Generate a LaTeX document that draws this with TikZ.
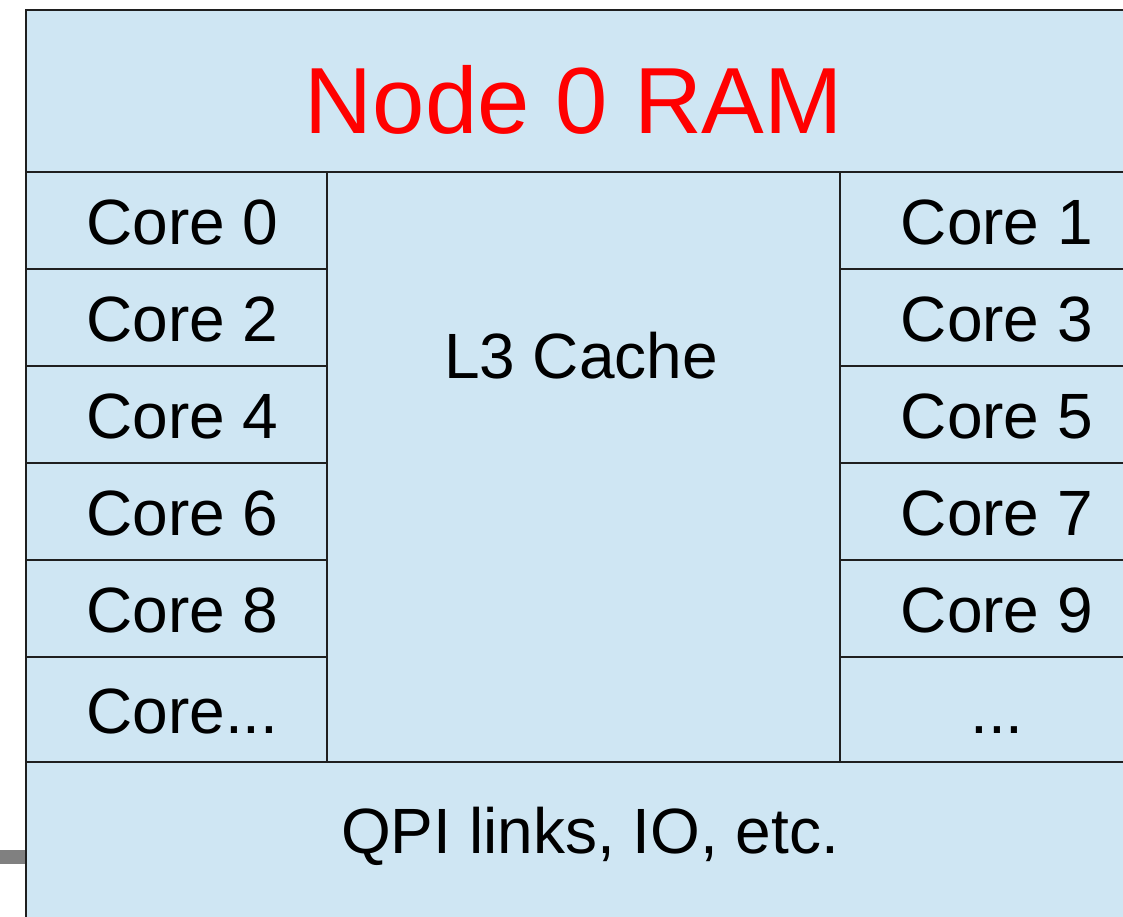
\documentclass[tikz,border=0pt]{standalone}
\usepackage{fontspec}
\setmainfont{Liberation Sans}
\usetikzlibrary{positioning}
\definecolor{boxblue}{RGB}{207,230,243}
\definecolor{ramred}{RGB}{255,0,0}
\definecolor{edgegray}{RGB}{128,128,128}
\tikzset{
	blk/.style  = {rectangle,draw=black!88,line width=1.8pt,fill=boxblue,
		inner sep=0pt,anchor=north west},
	core/.style = {blk,minimum width=301pt,font=\fontsize{64}{64}\selectfont,
		text height=56pt,text depth=7pt},
	bigtxt/.style = {font=\fontsize{64}{64}\selectfont,inner sep=0pt,
		text height=46pt,text depth=0pt},
}
\begin{document}
\begin{tikzpicture}[x=1pt,y=-1pt]
	\useasboundingbox (0,0) rectangle (1123,916);
	\clip (0,0) rectangle (1123,916);
	
	% grey stub on the left
	\fill[edgegray] (0,850) rectangle (25,864);
	
	% node frame
	\node (ram) [blk,minimum width=1128pt,minimum height=162pt] at (25,9) {};
	\node (qpi) [blk,minimum width=1128pt,minimum height=180pt] at (25,761) {};
	\node (l3) [blk,minimum width=513pt,minimum height=590pt] at (326,171) {};
	
	% cores, two columns
	\foreach \n/\m/\y/\h in {0/1/171/97,2/3/268/97,4/5/365/97,6/7/462/97,8/9/559/97}{
		\node (c\n) [core,minimum height=\h pt] at (25,\y) {\hspace*{12pt}Core \n};
		\node (c\m) [core,minimum width=314pt,minimum height=\h pt] at (839,\y) {Core \m};
	}
	\node (cl) [core,minimum height=105pt] at (25,656) {\hspace*{12pt}Core...};
	\node (cr) [core,minimum width=314pt,minimum height=105pt] at (839,656) {...};
	
	% labels
	\node (ramtxt) [inner sep=0pt,text=ramred,font=\fontsize{94}{94}\selectfont,
		text height=67pt,text depth=0pt] at (574,100) {Node 0 RAM};
	\node (l3txt) [bigtxt] at (581,355) {L3 Cache};
	\node (qpitxt) [bigtxt] at (590,830) {QPI links, IO, etc.};
\end{tikzpicture}
\end{document}
